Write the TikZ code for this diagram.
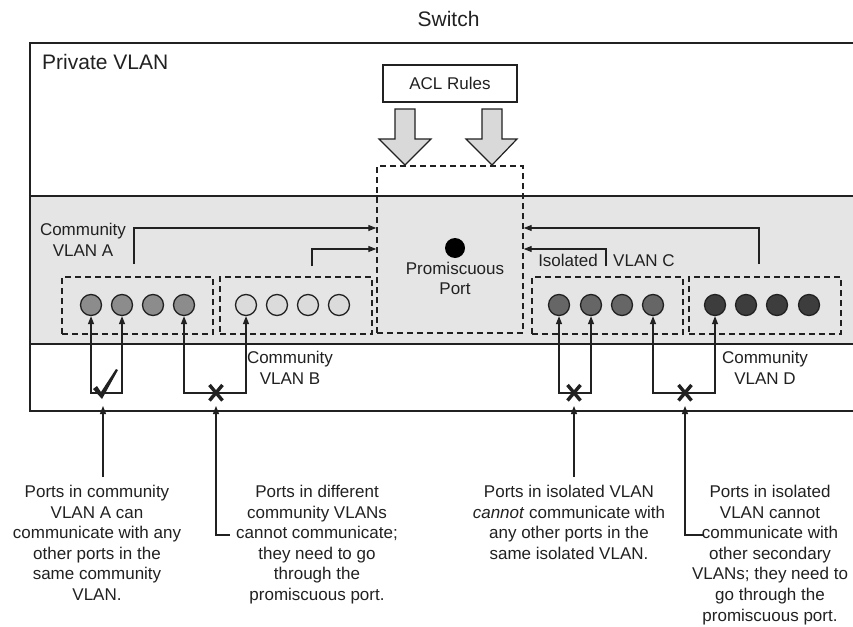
\documentclass[tikz,border=0pt]{standalone}
\usepackage{fontspec}
\setmainfont{Liberation Sans}
\usetikzlibrary{arrows.meta,calc}
\definecolor{ink}{gray}{0.13}
\definecolor{band}{gray}{0.9}
\definecolor{blockfill}{gray}{0.85}
\definecolor{portA}{gray}{0.55}
\definecolor{portB}{gray}{0.86}
\definecolor{portC}{gray}{0.4}
\definecolor{portD}{gray}{0.24}
\newcommand\fsmall{\fontsize{17}{20.6}\selectfont}
\newcommand\fbig{\fontsize{21}{25}\selectfont}
\begin{document}
\begin{tikzpicture}[x=1pt,y=-1pt,
  border/.style={draw=ink, line width=1.8pt},
  dbox/.style={draw=ink, dash pattern=on 6pt off 4pt, line width=1.4pt, inner sep=0pt},
  port/.style={circle, draw=ink, line width=1.3pt, minimum size=21pt, inner sep=0pt},
  conn/.style={draw=ink, line width=1.2pt},
  arr/.style={conn, -{Triangle[length=8pt,width=6pt]}},
  barr/.style={conn, {Triangle[length=8pt,width=6pt]}-{Triangle[length=8pt,width=6pt]}},
  lbl/.style={font=\fsmall, text=ink, align=center, inner sep=0pt},
  block/.style={draw=ink, fill=blockfill, line width=1.2pt, line join=miter},
  xmark/.style={draw=ink, line width=3.4pt},
]
\useasboundingbox (0,0) rectangle (853,626);
\fill[white] (0,0) rectangle (853,626);
% switch frame
\fill[band] (30,196) rectangle (853,344);
\draw[border] (853,43) -- (30,43) -- (30,411) -- (853,411);
\draw[border] (30,196) -- (853,196);
\draw[border] (30,344) -- (853,344);

\node[lbl, font=\fbig, anchor=base] (sw) at (448.5,27) {Switch};
\node[lbl, font=\fbig, anchor=base west] (pv) at (42,70) {Private VLAN};

% ACL rules
\node[draw=ink, line width=1.4pt, fill=white, minimum width=134pt, minimum height=37pt, font=\fsmall, text=ink] (acl) at (450,83.5) {ACL Rules};
\draw[block] (395,109) -- (415,109) -- (415,139) -- (431,139) -- (405,165) -- (379,139) -- (395,139) -- cycle;
\draw[block] (482,109) -- (502,109) -- (502,139) -- (517,139) -- (492,165) -- (466,139) -- (482,139) -- cycle;

% promiscuous port
\node[dbox, minimum width=146pt, minimum height=167pt] (prom) at (450,249.5) {};
\node[circle, fill=black, minimum size=20pt, inner sep=0pt] (pdot) at (455,248) {};
\node[lbl] (ptxt) at (455,278.5) {Promiscuous\\Port};

% VLAN boxes
\node[dbox, minimum width=151pt, minimum height=57pt] (boxA) at (137.5,305.5) {};
\node[dbox, minimum width=152pt, minimum height=57pt] (boxB) at (296,305.5) {};
\node[dbox, minimum width=151pt, minimum height=57pt] (boxC) at (607.5,305.5) {};
\node[dbox, minimum width=152pt, minimum height=57pt] (boxD) at (765,305.5) {};

% ports
\node[port, fill=portA] (a1) at (91,305) {};
\node[port, fill=portA] (a2) at (122,305) {};
\node[port, fill=portA] (a3) at (153,305) {};
\node[port, fill=portA] (a4) at (184,305) {};
\node[port, fill=portB] (b1) at (246,305) {};
\node[port, fill=portB] (b2) at (277,305) {};
\node[port, fill=portB] (b3) at (308,305) {};
\node[port, fill=portB] (b4) at (339,305) {};
\node[port, fill=portC] (c1) at (559,305) {};
\node[port, fill=portC] (c2) at (591,305) {};
\node[port, fill=portC] (c3) at (622,305) {};
\node[port, fill=portC] (c4) at (653,305) {};
\node[port, fill=portD] (d1) at (715,305) {};
\node[port, fill=portD] (d2) at (746,305) {};
\node[port, fill=portD] (d3) at (777,305) {};
\node[port, fill=portD] (d4) at (809,305) {};

% labels in band
\node[lbl] (labA) at (83,239.6) {Community\\VLAN A};
\node[lbl, anchor=base east] (labIso) at (598,266.5) {Isolated};
\node[lbl, anchor=base west] (labC) at (613,266.5) {VLAN C};
\node[lbl] (labB) at (290,367.6) {Community\\VLAN B};
\node[lbl] (labD) at (765,367.6) {Community\\VLAN D};

% arrows to promiscuous port
\coordinate (sA) at (134,264);
\coordinate (sB) at (312,266);
\coordinate (sC) at (606,266);
\coordinate (sD) at (759,264);
\draw[arr] (sA) |- ([yshift=21.5pt]prom.west);
\draw[arr] (sB) |- ([yshift=0.5pt]prom.west);
\draw[arr] (sD) |- ([yshift=21.5pt]prom.east);
\draw[arr] (sC) |- ([yshift=0.5pt]prom.east);

% brackets between ports
\coordinate (mA) at (103,393);
\coordinate (mB) at (216,393);
\coordinate (mC) at (574,393);
\coordinate (mD) at (685,393);
\draw[barr] (a1.south) |- (mA) -| (a2.south);
\draw[barr] (a4.south) |- (mB) -| (b1.south);
\draw[barr] (c1.south) |- (mC) -| (c2.south);
\draw[barr] (c4.south) |- (mD) -| (d1.south);

% check mark
\fill[ink] ($(mA)+(-10,-4)$) -- ($(mA)+(-6,-7)$) -- ($(mA)+(-2,-1)$) -- ($(mA)+(13,-24)$) -- ($(mA)+(15,-23)$) -- ($(mA)+(-1,6)$) -- cycle;
% x marks
\foreach \m in {mB,mC,mD}{
  \draw[xmark] ($(\m)+(-6.5,-8)$) -- ($(\m)+(6.5,7.5)$);
  \draw[xmark] ($(\m)+(6.5,-8)$) -- ($(\m)+(-6.5,7.5)$);
}

% notes
\node[lbl, anchor=north] (n1) at (97,485) {Ports in community\\VLAN A can\\communicate with any\\other ports in the\\same community\\VLAN.};
\node[lbl, anchor=north] (n2) at (317,485) {Ports in different\\community VLANs\\cannot communicate;\\they need to go\\through the\\promiscuous port.};
\node[lbl, anchor=north] (n3) at (569,485) {Ports in isolated VLAN\\\textit{cannot} communicate with\\any other ports in the\\same isolated VLAN.};
\node[lbl, anchor=north] (n4) at (770,485) {Ports in isolated\\VLAN cannot\\communicate with\\other secondary\\VLANs; they need to\\go through the\\promiscuous port.};

\coordinate (t1) at (103,477);
\coordinate (t2) at (230,535);
\coordinate (t3) at (574,477);
\coordinate (t4) at (704,535);
\draw[arr] (t1) -- ([yshift=-13pt]mA);
\draw[arr] (t2) -| ([yshift=-13pt]mB);
\draw[arr] (t3) -- ([yshift=-13pt]mC);
\draw[arr] (t4) -| ([yshift=-13pt]mD);
\end{tikzpicture}
\end{document}
